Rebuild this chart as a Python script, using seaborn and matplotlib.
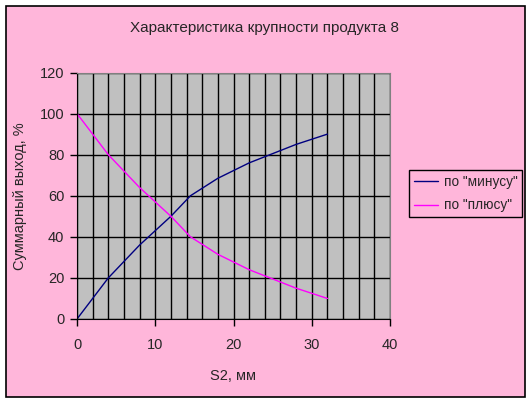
import numpy as np
import pandas as pd
import matplotlib
matplotlib.use('Agg')
import matplotlib.pyplot as plt
import seaborn as sns
from matplotlib.patches import Rectangle
from matplotlib.ticker import MultipleLocator

# значения
s2 = [0, 4, 8, 12, 14.5, 18, 22, 25, 28, 32]
minus = [0, 20, 36, 50, 60, 68.5, 76, 80.5, 85, 90]
plus = [100, 80, 64, 50, 40, 31.5, 24, 19.5, 15, 10]
series = ['по "минусу"', 'по "плюсу"']
colors = ['#000080', '#FF00FF']

df = pd.concat([
    pd.DataFrame({'S2': s2, 'val': minus, 'series': series[0]}),
    pd.DataFrame({'S2': s2, 'val': plus, 'series': series[1]}),
])

sns.set_style('white')
plt.rcParams['font.family'] = ['Liberation Sans', 'DejaVu Sans']

pink = '#FFB6DA'
fig = plt.figure(figsize=(5.31, 4.01), dpi=100, facecolor='white')
fig.patches.append(Rectangle((6 / 531, 4 / 401), 519 / 531, 391 / 401,
                             transform=fig.transFigure, facecolor=pink,
                             edgecolor='black', linewidth=1.2, zorder=-10))

ax = fig.add_axes([77 / 531, 82 / 401, 313 / 531, 246.5 / 401])
ax.set_zorder(5)
ax.set_facecolor('#C0C0C0')

sns.lineplot(data=df, x='S2', y='val', hue='series', palette=colors,
             linewidth=1, ax=ax, sort=False, estimator=None)

ax.set_xlim(0, 40)
ax.set_ylim(0, 120)
ax.xaxis.set_major_locator(MultipleLocator(10))
ax.xaxis.set_minor_locator(MultipleLocator(2))
ax.yaxis.set_major_locator(MultipleLocator(20))
ax.grid(which='minor', axis='x', color='black', linewidth=1)
ax.grid(which='major', axis='both', color='black', linewidth=1)
ax.set_axisbelow(True)
ax.tick_params(axis='both', which='major', direction='out', length=5,
               width=1, color='black', labelsize=10.5, pad=4,
               bottom=True, left=True)
ax.tick_params(axis='x', which='major', pad=9)
ax.tick_params(which='minor', length=0)

for side in ['left', 'bottom']:
    ax.spines[side].set_color('black')
for side in ['top', 'right']:
    ax.spines[side].set_color('#808080')

ax.set_xlabel('S2, мм', fontsize=10.5, labelpad=12)
ax.set_ylabel('Суммарный выход, %', fontsize=10.5, labelpad=9)
fig.text(265 / 531, 1 - 28 / 401, 'Характеристика крупности продукта 8',
         ha='center', va='center', fontsize=11, zorder=6)

leg = ax.legend(loc='upper left', bbox_to_anchor=(409 / 531, 1 - 170 / 401),
                bbox_transform=fig.transFigure, frameon=True, fancybox=False,
                edgecolor='black', facecolor=pink, fontsize=9.8,
                handlelength=1.8, handletextpad=0.4, borderpad=0.35,
                labelspacing=0.7, borderaxespad=0)
leg.get_frame().set_linewidth(1)
leg.get_frame().set_alpha(None)

fig.savefig('out.png', dpi=100, facecolor='white')
